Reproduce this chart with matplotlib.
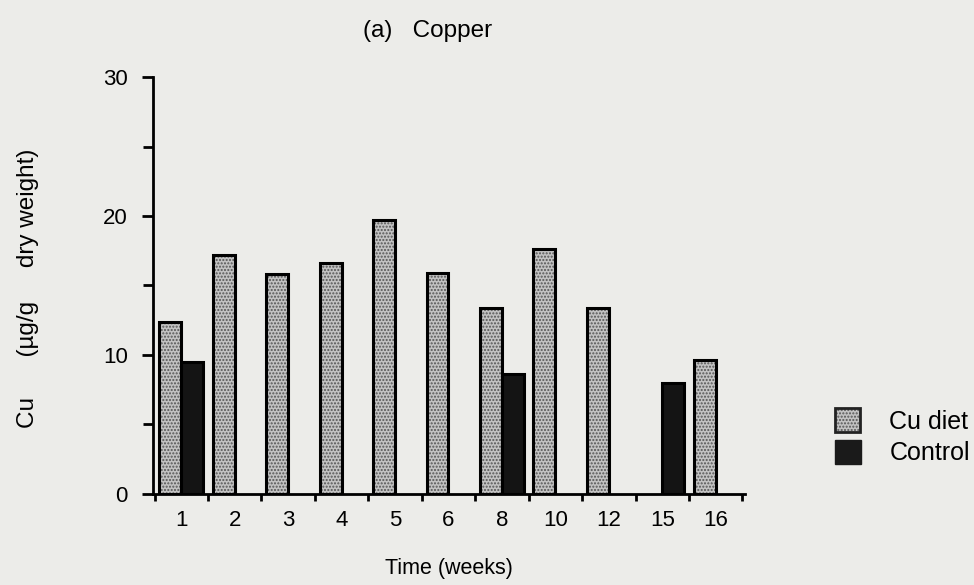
import matplotlib.pyplot as plt
import numpy as np

plt.rcParams['font.family'] = ['Liberation Sans', 'DejaVu Sans']

weeks = ['1', '2', '3', '4', '5', '6', '8', '10', '12', '15', '16']
cu_diet = [12.4, 17.2, 15.8, 16.6, 19.7, 15.9, 13.4, 17.6, 13.4, np.nan, 9.6]
control = [9.5, np.nan, np.nan, np.nan, np.nan, np.nan, 8.6, np.nan, np.nan, 8.0, np.nan]

BG = '#ecece9'
DOT_FACE = '#c2c2c2'
DOT_EDGE = '#555555'


def main():
    fig = plt.figure(figsize=(9.74, 5.85), dpi=100, facecolor=BG)
    ax = fig.add_axes([0.157, 0.156, 0.608, 0.712])
    ax.set_facecolor(BG)

    x = np.arange(len(weeks))
    w = 0.41

    # dotted fill drawn first, then black outline on top
    ax.bar(x - w / 2, cu_diet, w, color=DOT_FACE, edgecolor=DOT_EDGE,
           hatch='.....', linewidth=0)
    ax.bar(x - w / 2, cu_diet, w, fill=False, edgecolor='black', linewidth=2.2)
    ax.bar(x + w / 2, control, w, color='#141414', edgecolor='black', linewidth=2.2)

    ax.set_xlim(-0.53, 10.55)
    ax.set_ylim(0, 30)

    for s in ['top', 'right']:
        ax.spines[s].set_visible(False)
    ax.spines['left'].set_linewidth(2)
    ax.spines['bottom'].set_linewidth(2)

    ax.set_yticks([0, 10, 20, 30])
    ax.set_yticks([5, 15, 25], minor=True)
    ax.tick_params(axis='y', which='major', length=8, width=2, pad=10, labelsize=16)
    ax.tick_params(axis='y', which='minor', length=7, width=2)

    ax.set_xticks(np.arange(len(weeks) + 1) - 0.5)
    ax.set_xticklabels([])
    ax.tick_params(axis='x', which='major', length=5, width=2)
    ax.set_xticks(x, minor=True)
    ax.set_xticklabels(weeks, minor=True)
    ax.tick_params(axis='x', which='minor', length=0, pad=12, labelsize=16)

    ax.set_xlabel('Time (weeks)', fontsize=15.5, labelpad=19)
    fig.text(0.029, 0.507, 'Cu      (µg/g     dry weight)', rotation=90,
             ha='center', va='center', fontsize=17.5)
    fig.text(0.439, 0.947, '(a)   Copper', ha='center', va='center', fontsize=17.5)

    # legend, placed by hand like the original
    fig.patches.append(plt.Rectangle((0.857, 0.262), 0.026, 0.041,
                                     transform=fig.transFigure,
                                     facecolor=DOT_FACE, edgecolor=DOT_EDGE,
                                     hatch='.....', linewidth=0))
    fig.patches.append(plt.Rectangle((0.857, 0.262), 0.026, 0.041,
                                     transform=fig.transFigure, fill=False,
                                     edgecolor='#222222', linewidth=2))
    fig.patches.append(plt.Rectangle((0.857, 0.207), 0.027, 0.041,
                                     transform=fig.transFigure,
                                     facecolor='#1a1a1a', edgecolor='#1a1a1a'))
    fig.text(0.913, 0.279, 'Cu diet', va='center', fontsize=18)
    fig.text(0.913, 0.226, 'Control', va='center', fontsize=18)

    fig.savefig('out.png', dpi=100, facecolor=BG)


if __name__ == "__main__":
    main()
